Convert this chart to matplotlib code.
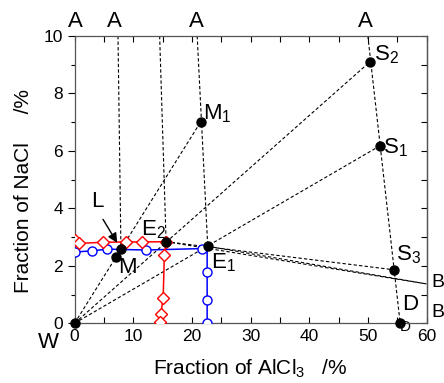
import matplotlib
matplotlib.use("Agg")
import matplotlib.pyplot as plt
from matplotlib.ticker import MultipleLocator

plt.rcParams['font.family'] = ['Liberation Sans', 'DejaVu Sans']
plt.rcParams['mathtext.fontset'] = 'custom'
plt.rcParams['mathtext.rm'] = 'Liberation Sans'
plt.rcParams['mathtext.it'] = 'Liberation Sans'
plt.rcParams['mathtext.bf'] = 'Liberation Sans'

# blue series (circles)
blue_x = [0.0, 3.0, 5.5, 12.2, 21.8, 22.6, 22.6, 22.6, 22.6]
blue_y = [2.48, 2.52, 2.58, 2.55, 2.60, 2.66, 1.78, 0.80, 0.0]
blue_mk = [True, True, True, True, True, False, True, True, True]
# red series (diamonds)
red_x = [0.0, 0.8, 4.9, 8.7, 11.5, 15.6, 15.3, 15.1, 14.7, 14.6]
red_y = [2.90, 2.78, 2.82, 2.83, 2.83, 2.84, 2.37, 0.87, 0.33, 0.04]

# special points
pts = {
    'W': (0.0, 0.0), 'M': (7.0, 2.31), 'L': (7.9, 2.60), 'E2': (15.6, 2.84),
    'E1': (22.7, 2.68), 'M1': (21.5, 7.01), 'S2': (50.4, 9.11),
    'S1': (52.0, 6.17), 'S3': (54.5, 1.86), 'D': (55.5, 0.02),
}
B1 = (60.0, 1.37)
# tie-line ends at top edge (y = 10)
A_L = (7.4, 10.0)
A_E2 = (14.5, 10.0)
A_E1 = (20.9, 10.0)
A_D = (50.0, 10.0)

fig = plt.figure(figsize=(4.44, 3.83), dpi=100)
ax = fig.add_axes([0.168, 0.156, 0.7926, 0.75])

dash = dict(color='black', lw=0.8, ls=(0, (3, 2)), zorder=2)

def seg(p, q):
    ax.plot([p[0], q[0]], [p[1], q[1]], **dash)

seg(pts['W'], pts['M1'])
seg(pts['W'], pts['S2'])
seg(pts['W'], pts['S1'])
seg(A_L, pts['L'])
seg(A_E2, pts['E2'])
seg(A_E1, pts['E1'])
seg(A_D, pts['D'])
seg(pts['E2'], pts['S3'])
seg(pts['E2'], B1)
seg(pts['E1'], B1)

ax.plot(blue_x, blue_y, color='blue', lw=1.1, zorder=3)
ax.plot([x for x, m in zip(blue_x, blue_mk) if m], [y for y, m in zip(blue_y, blue_mk) if m],
        ls='none', marker='o', ms=6.5, mfc='white', mec='blue', mew=1.0, zorder=4)
ax.plot(red_x, red_y, color='red', lw=1.1, zorder=3)
ax.plot(red_x, red_y, ls='none', marker='D', ms=6.5, mfc='white', mec='red', mew=1.0, zorder=4)

for k, (x, y) in pts.items():
    ax.plot([x], [y], 'o', color='black', ms=6.5, zorder=6, clip_on=(k not in ('W', 'D')))

ax.annotate('', xy=(7.5, 2.72), xytext=(4.6, 3.7),
            arrowprops=dict(arrowstyle='-|>', color='black', lw=1.0, mutation_scale=14), zorder=7)

fs = 16
ax.text(3.85, 4.24, 'L', fontsize=fs, ha='center', va='center')
ax.text(9.0, 1.95, 'M', fontsize=fs, ha='center', va='center')
ax.text(11.3, 3.25, 'E$_2$', fontsize=fs, ha='left', va='center')
ax.text(23.3, 2.1, 'E$_1$', fontsize=fs, ha='left', va='center')
ax.text(21.9, 7.28, 'M$_1$', fontsize=fs, ha='left', va='center')
ax.text(51.1, 9.35, 'S$_2$', fontsize=fs, ha='left', va='center')
ax.text(52.6, 6.1, 'S$_1$', fontsize=fs, ha='left', va='center')
ax.text(54.8, 2.37, 'S$_3$', fontsize=fs, ha='left', va='center')
ax.text(55.9, 0.67, 'D', fontsize=fs, ha='left', va='center')
ax.text(56.3, -0.14, 'D', fontsize=11, ha='center', va='center', zorder=1, clip_on=False)
ax.text(60.8, 1.43, 'B', fontsize=14, ha='left', va='center', clip_on=False)
ax.text(60.8, 0.38, 'B', fontsize=14, ha='left', va='center', clip_on=False)
ax.text(-4.4, -0.68, 'W', fontsize=fs, ha='center', va='center', clip_on=False)
for ax_x in [0.17, 6.8, 20.8, 49.6]:
    ax.text(ax_x, 10.5, 'A', fontsize=fs, ha='center', va='center', clip_on=False)

ax.set_xlim(0, 60)
ax.set_ylim(0, 10)
ax.xaxis.set_major_locator(MultipleLocator(10))
ax.xaxis.set_minor_locator(MultipleLocator(5))
ax.yaxis.set_major_locator(MultipleLocator(2))
ax.yaxis.set_minor_locator(MultipleLocator(1))
ax.tick_params(axis='x', which='both', direction='in', top=True, labelsize=12.5, length=4, width=0.8, pad=4)
ax.tick_params(axis='y', which='major', direction='out', labelsize=12.5, length=5, width=0.8)
ax.tick_params(axis='y', which='minor', direction='out', length=3, width=0.8)
sec = ax.secondary_yaxis('right')
sec.yaxis.set_major_locator(MultipleLocator(1))
sec.tick_params(direction='in', length=4, width=0.8, labelright=False)
for s in list(ax.spines.values()) + [sec.spines['right']]:
    s.set_color('#555555')
    s.set_linewidth(0.9)

ax.set_xlabel(r'Fraction of AlCl$_\mathregular{3}$   /%', fontsize=15)
ax.xaxis.set_label_coords(0.5, -0.12)
ax.set_ylabel('Fraction of NaCl     /%', fontsize=15)
ax.yaxis.set_label_coords(-0.118, 0.459)

fig.savefig('out.png', dpi=100)
